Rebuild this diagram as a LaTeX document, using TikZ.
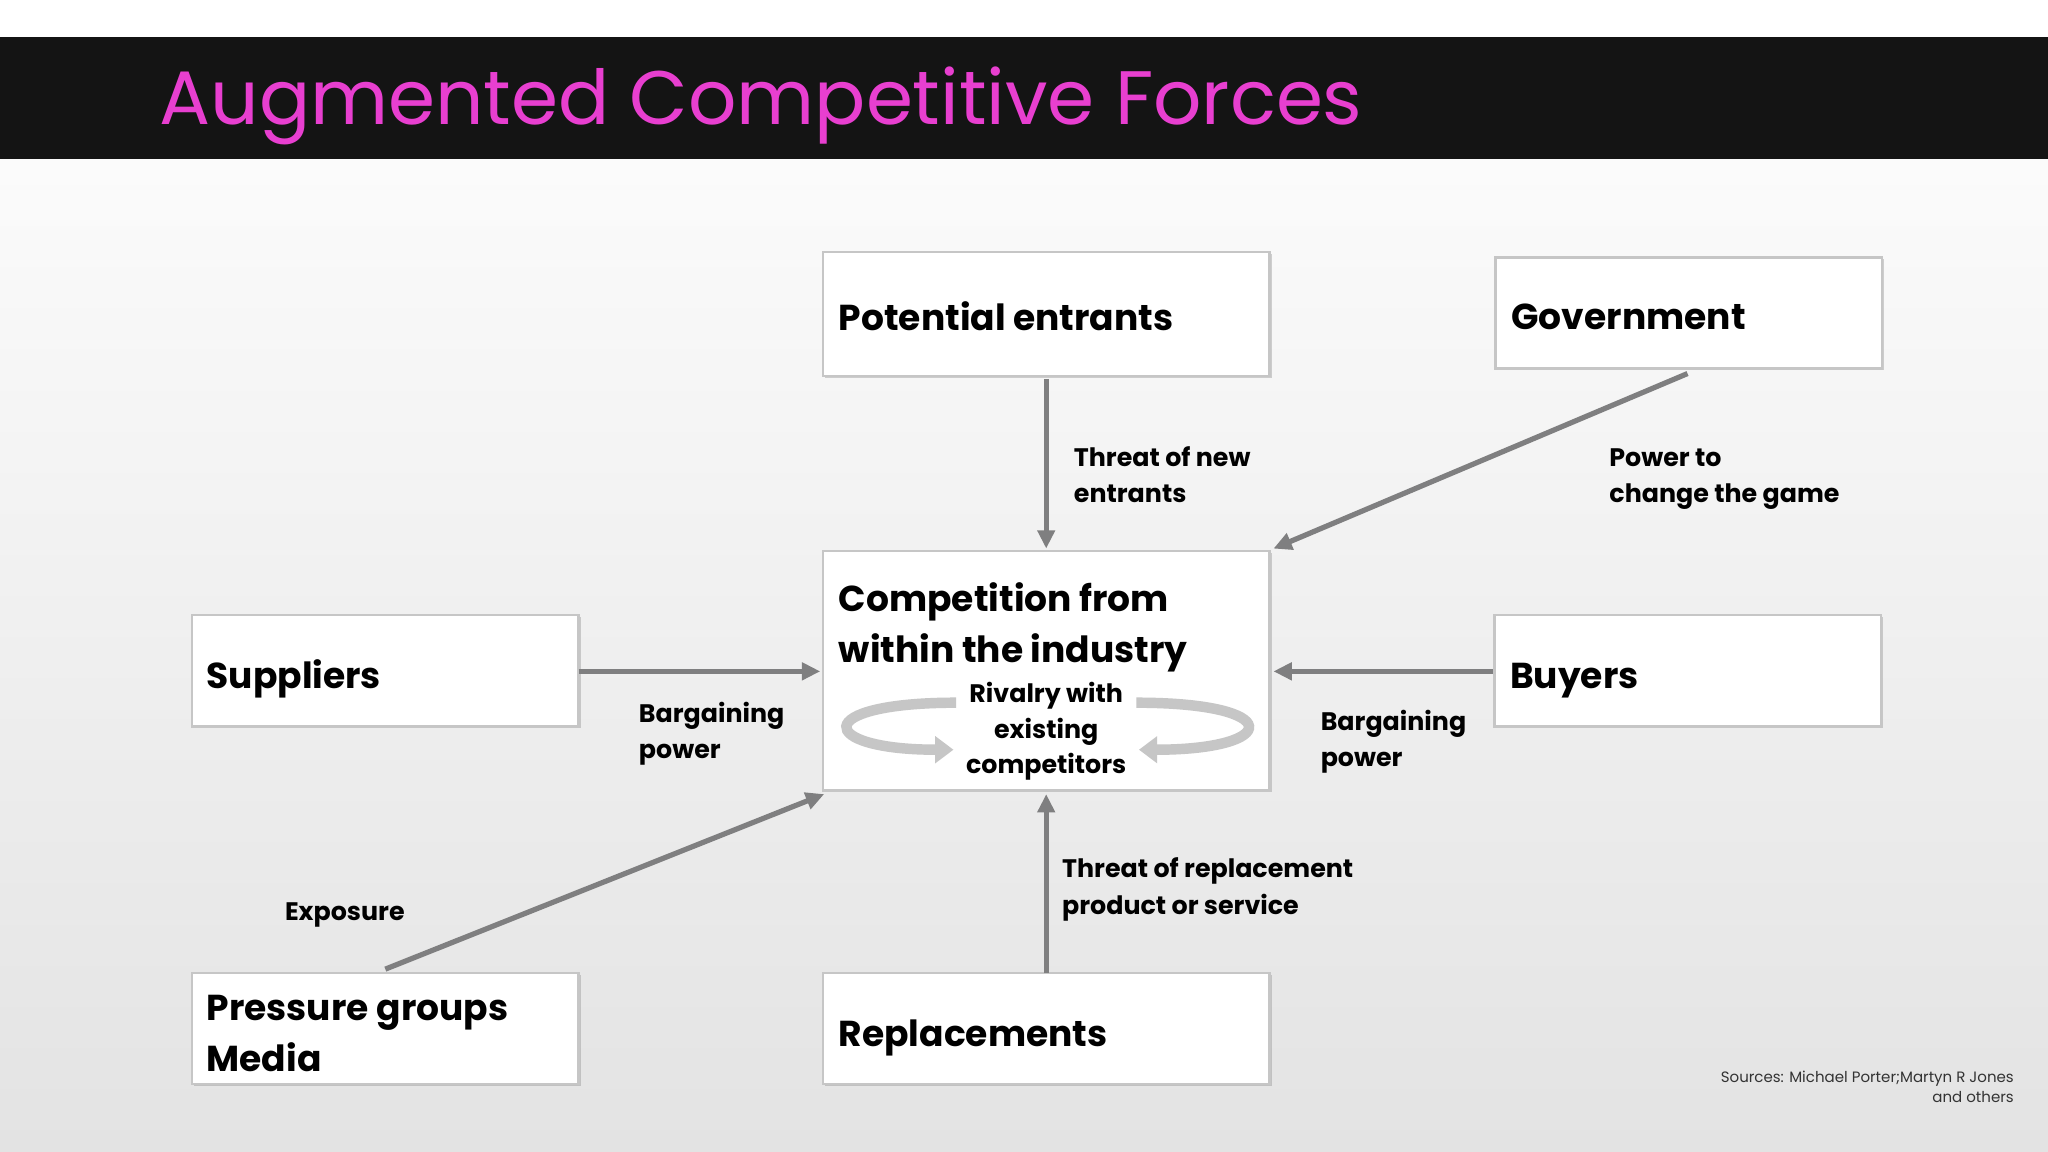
\documentclass[tikz,border=0pt]{standalone}
\usepackage{fontspec}
\setmainfont{Poppins}
\usetikzlibrary{arrows.meta,shadows}
\definecolor{mag}{HTML}{E83FD0}
\definecolor{arr}{HTML}{7F7F80}
\begin{document}
\begin{tikzpicture}[x=1pt,y=-1pt,
  box/.style={draw=gray!45,line width=2pt,fill=white,drop shadow={opacity=0.35,shadow xshift=1.5pt,shadow yshift=-1.5pt}},
  blabel/.style={anchor=base west,font=\fontsize{27.6}{32}\selectfont\bfseries,inner sep=0},
  slabel/.style={anchor=base west,font=\fontsize{19.4}{28}\selectfont\bfseries,align=left,inner sep=0},
  ar/.style={draw=arr,line width=4pt,-{Triangle[length=14pt,width=13pt]}},
  rv/.style={draw=gray!45,line width=8pt,-{Triangle[length=14pt,width=20pt]}}]
\useasboundingbox (0,0) rectangle (1568,882);
\shade[top color=white,bottom color=gray!22] (0,0) rectangle (1568,882);
\fill[white] (0,0) rectangle (1568,28);
\fill[black!92] (0,28) rectangle (1568,122);
\node[anchor=base west,inner sep=0,text=mag,font=\fontsize{58}{68}\selectfont] (title) at (122,95) {Augmented Competitive Forces};
% boxes
\path[box] (630,193) rectangle (972,288);
\path[box] (1145,197) rectangle (1441,282);
\path[box] (630,422) rectangle (972,605);
\path[box] (147,471) rectangle (443,556);
\path[box] (1144,471) rectangle (1440,556);
\path[box] (147,745) rectangle (443,830);
\path[box] (630,745) rectangle (972,830);
\node[blabel] (pet) at (642,253) {Potential entrants};
\node[blabel] (gov) at (1157,252) {Government};
\node[blabel] (sup) at (158,527) {Suppliers};
\node[blabel] (buy) at (1156,527) {Buyers};
\node[blabel] (pg1) at (158,781) {Pressure groups};
\node[blabel] (pg2) at (158,820) {Media};
\node[blabel] (rep) at (642,801) {Replacements};
\node[blabel] (c1) at (642,468) {Competition from};
\node[blabel] (c2) at (642,507) {within the industry};
% connectors
\coordinate (peB) at (801,290); \coordinate (cT) at (801,420);
\coordinate (govB) at (1292,286); \coordinate (cTR) at (975,420);
\coordinate (supR) at (443,514); \coordinate (cL) at (628,514);
\coordinate (buyL) at (1143,514); \coordinate (cR) at (975,514);
\coordinate (pgT) at (295,742); \coordinate (cBL) at (631,608);
\coordinate (repT) at (801,745); \coordinate (cB) at (801,608);
\draw[ar] (peB) -- (cT);
\draw[ar] (govB) -- (cTR);
\draw[ar] (supR) -- (cL);
\draw[ar] (buyL) -- (cR);
\draw[ar] (pgT) -- (cBL);
\draw[ar] (repT) -- (cB);
% rivalry arrows
\coordinate (r1) at (732,538); \coordinate (r2) at (730,574);
\coordinate (r3) at (870,538); \coordinate (r4) at (872,574);
\draw[rv] (r1) .. controls (620,538) and (625,574) .. (r2);
\draw[rv] (r3) .. controls (985,538) and (980,574) .. (r4);
\node[font=\fontsize{19.4}{27}\selectfont\bfseries,align=center,inner sep=0] (riv) at (801,560) {Rivalry with\\existing\\competitors};
% labels
\node[slabel] (l1) at (822,385) {Threat of new\\entrants};
\node[slabel] (l2) at (1232,385) {Power to\\change the game};
\node[slabel] (l3) at (489,581) {Bargaining\\power};
\node[slabel] (l4) at (1011,587) {Bargaining\\power};
\node[slabel] (l5) at (218,705) {Exposure};
\node[slabel] (l6) at (813,700) {Threat of replacement\\product or service};
\node[anchor=north east,align=right,inner sep=0,font=\fontsize{11.5}{15}\selectfont,text=black!80] (src) at (1542,820) {Sources: Michael Porter;Martyn R Jones\\and others};
\end{tikzpicture}
\end{document}
